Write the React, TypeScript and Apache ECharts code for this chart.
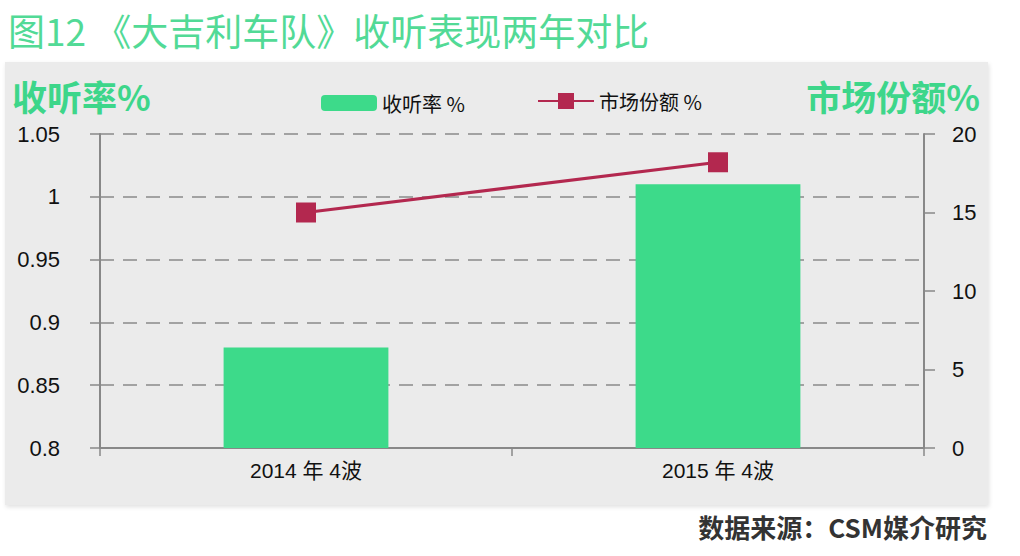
import React, { useEffect, useRef } from "react";
import * as echarts from "echarts";

const categories = ["2014 年 4波", "2015 年 4波"];
const ratingValues = [0.88, 1.01];
const shareValues = [15.0, 18.2];
const seriesNames = ["收听率 %", "市场份额 %"];
const titleText = "图12 《大吉利车队》收听表现两年对比";
const leftAxisName = "收听率%";
const rightAxisName = "市场份额%";
const sourceText = "数据来源：CSM媒介研究";

const GREEN = "#3dda8a";
const RED = "#b3284f";
const FONT = "'Liberation Sans', Arial, 'Noto Sans CJK SC', sans-serif";
const CJK = "'Noto Sans CJK SC', 'Liberation Sans', sans-serif";

export default function App() {
  const ref = useRef<HTMLDivElement>(null);
  useEffect(() => {
    document.body.style.margin = "0";
    const chart = echarts.init(ref.current!, undefined, { renderer: "svg" });
    chart.setOption({
      animation: false,
      backgroundColor: "#ffffff",
      graphic: [
        {
          type: "rect",
          z: -10,
          shape: { x: 5, y: 62, width: 983, height: 443 },
          style: { fill: "#ebebeb", shadowBlur: 4, shadowColor: "rgba(0,0,0,0.12)", shadowOffsetX: 1, shadowOffsetY: 2 },
        },
        {
          type: "text",
          left: 8,
          top: 11,
          style: { text: titleText, fill: "#52da96", font: `37px ${CJK}` },
        },
        {
          type: "text",
          left: 12,
          top: 78,
          style: { text: leftAxisName, fill: "#3dd68a", font: `bold 35px ${CJK}` },
        },
        {
          type: "text",
          right: 1020 - 980,
          top: 78,
          style: { text: rightAxisName, fill: "#3dd68a", font: `bold 35px ${CJK}` },
        },
        {
          type: "text",
          right: 1020 - 987,
          top: 513,
          style: { text: sourceText, fill: "#333333", font: `bold 26px ${CJK}` },
        },
      ],
      legend: [
        {
          data: [seriesNames[0]],
          left: 316,
          top: 88,
          itemWidth: 56,
          itemHeight: 16,
          itemGap: 6,
          textStyle: { fontSize: 20, color: "#111", fontFamily: CJK },
        },
        {
          data: [seriesNames[1]],
          left: 532,
          top: 86,
          itemWidth: 56,
          itemHeight: 20,
          textStyle: { fontSize: 20, color: "#111", fontFamily: CJK },
        },
      ],
      grid: { left: 100, right: 96, top: 134, bottom: 108, containLabel: false },
      xAxis: {
        type: "category",
        data: categories,
        axisLine: { show: true, lineStyle: { color: "#888", width: 2 } },
        axisTick: { show: true, length: 8, lineStyle: { color: "#888", width: 1.5 } },
        axisLabel: { color: "#111", fontSize: 21, fontFamily: FONT, margin: 12 },
      },
      yAxis: [
        {
          type: "value",
          min: 0.8,
          max: 1.05,
          interval: 0.05,
          axisLine: { show: true, lineStyle: { color: "#888", width: 2 } },
          axisTick: { show: true, length: 10, lineStyle: { color: "#888", width: 1.5 } },
          axisLabel: { color: "#111", fontSize: 22, fontFamily: FONT, margin: 40 },
          splitLine: { show: true, lineStyle: { color: "#8a8a8a", width: 1.5, type: [14, 9] } },
        },
        {
          type: "value",
          min: 0,
          max: 20,
          interval: 5,
          position: "right",
          axisLine: { show: true, lineStyle: { color: "#888", width: 2 } },
          axisTick: { show: true, length: 11, lineStyle: { color: "#888", width: 1.5 } },
          axisLabel: { color: "#111", fontSize: 22, fontFamily: FONT, margin: 28 },
          splitLine: { show: false },
        },
      ],
      series: [
        {
          name: seriesNames[0],
          type: "bar",
          data: ratingValues,
          barWidth: "40%",
          itemStyle: { color: GREEN },
          yAxisIndex: 0,
        },
        {
          name: seriesNames[1],
          type: "line",
          data: shareValues,
          yAxisIndex: 1,
          symbol: "rect",
          symbolSize: 20,
          lineStyle: { color: RED, width: 3 },
          itemStyle: { color: RED },
        },
      ],
    });
    return () => chart.dispose();
  }, []);
  return <div ref={ref} style={{ width: 1020, height: 556 }} />;
}
